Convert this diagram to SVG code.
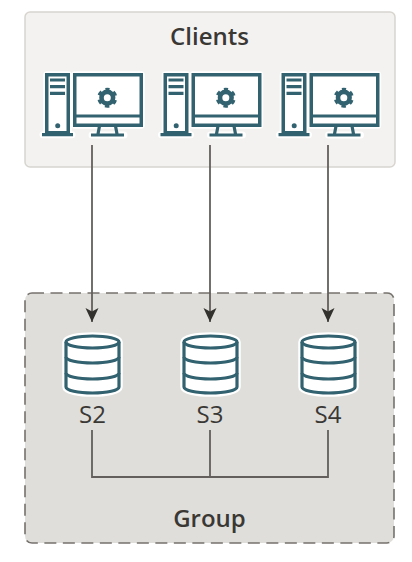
<svg xmlns="http://www.w3.org/2000/svg" width="412" height="562" viewBox="0 0 412 562">
<style>
.lbl{font-family:"Open Sans","Noto Sans","Liberation Sans",sans-serif;fill:#3a3835;text-anchor:middle;font-size:24px}
.b{font-weight:600}
.ic{fill:#fff;stroke:#32626f;stroke-width:3.500}
.t{fill:none;stroke:#32626f;stroke-width:3.200}
.halo{fill:#fff;stroke:#fff;stroke-width:7;stroke-linejoin:round}
.haloT{fill:none;stroke:#fff;stroke-width:7;stroke-linecap:round}
.con{fill:none;stroke:#625f5c;stroke-width:1.800}
</style>
<defs>
<marker id="arrow" markerUnits="userSpaceOnUse" markerWidth="15" markerHeight="14" refX="14" refY="7" orient="auto"><path d="M0 0.500L14 7L0 13.500L3.500 7Z" fill="#33312e"/></marker>
<g id="pc">
<rect class="halo" x="4.750" y="1.750" width="21.500" height="58"/>
<rect class="halo" x="32.750" y="1.750" width="66.500" height="50.500"/>
<path class="haloT" d="M1 61.700H30M50 62H82"/>
<rect class="ic" x="4.750" y="1.750" width="21.500" height="58"/>
<path class="t" d="M0 61.700H31M8 7H23M8 13.700H23M8 20.300H23"/>
<circle cx="15.700" cy="52.700" r="2.500" fill="#32626f"/>
<rect class="ic" x="32.750" y="1.750" width="66.500" height="50.500"/>
<path class="t" d="M33 43H99"/>
<path class="t" d="M57.500 53L56 61M73.500 53L75 61M49 62H82"/>
<circle cx="65.300" cy="24.700" r="5.800" fill="none" stroke="#32626f" stroke-width="4.600"/>
<circle cx="65.300" cy="24.700" r="8.300" fill="none" stroke="#32626f" stroke-width="3.400" stroke-dasharray="4.300 4.390" stroke-dashoffset="2.150" transform="rotate(-90 65.300 24.700)"/>
</g>
<g id="db">
<path fill="#fff" stroke="#fff" stroke-width="7.500" d="M0 6A26.500 6 0 0 1 53 6V51A26.500 6 0 0 1 0 51Z"/>
<path class="ic" style="stroke-width:3.200" d="M0 6A26.500 6 0 0 1 53 6V51A26.500 6 0 0 1 0 51Z"/>
<path class="t" d="M0 6A26.500 6 0 0 0 53 6M0 21A26.500 6 0 0 0 53 21M0 37A26.500 6 0 0 0 53 37"/>
</g>
</defs>
<rect width="412" height="562" fill="#fff"/>
<g id="clients">
<rect x="25" y="12" width="370" height="155" rx="5" fill="#f3f2f0" stroke="#d8d5cf" stroke-width="1.500"/>
<text class="lbl b" x="209.500" y="45">Clients</text>
</g>
<g id="group">
<rect x="25" y="293" width="369" height="250" rx="7" fill="#dfdeda" stroke="#75716d" stroke-width="1.600" stroke-dasharray="12 6.500"/>
<text class="lbl b" x="209.500" y="527">Group</text>
</g>
<g id="client-1"><use href="#pc" x="42" y="73"/></g>
<g id="client-2"><use href="#pc" x="160.500" y="73"/></g>
<g id="client-3"><use href="#pc" x="278.500" y="73"/></g>
<g id="s2"><use href="#db" x="66" y="336"/><text class="lbl" x="92.500" y="423">S2</text></g>
<g id="s3"><use href="#db" x="184" y="336"/><text class="lbl" x="210" y="423">S3</text></g>
<g id="s4"><use href="#db" x="302" y="336"/><text class="lbl" x="328" y="423">S4</text></g>
<g id="connectors">
<path class="con" marker-end="url(#arrow)" d="M92 145V322"/>
<path class="con" marker-end="url(#arrow)" d="M210 145V322"/>
<path class="con" marker-end="url(#arrow)" d="M328 145V322"/>
<path class="con" d="M92 430V477H328V430M210 430V477"/>
</g>
</svg>
